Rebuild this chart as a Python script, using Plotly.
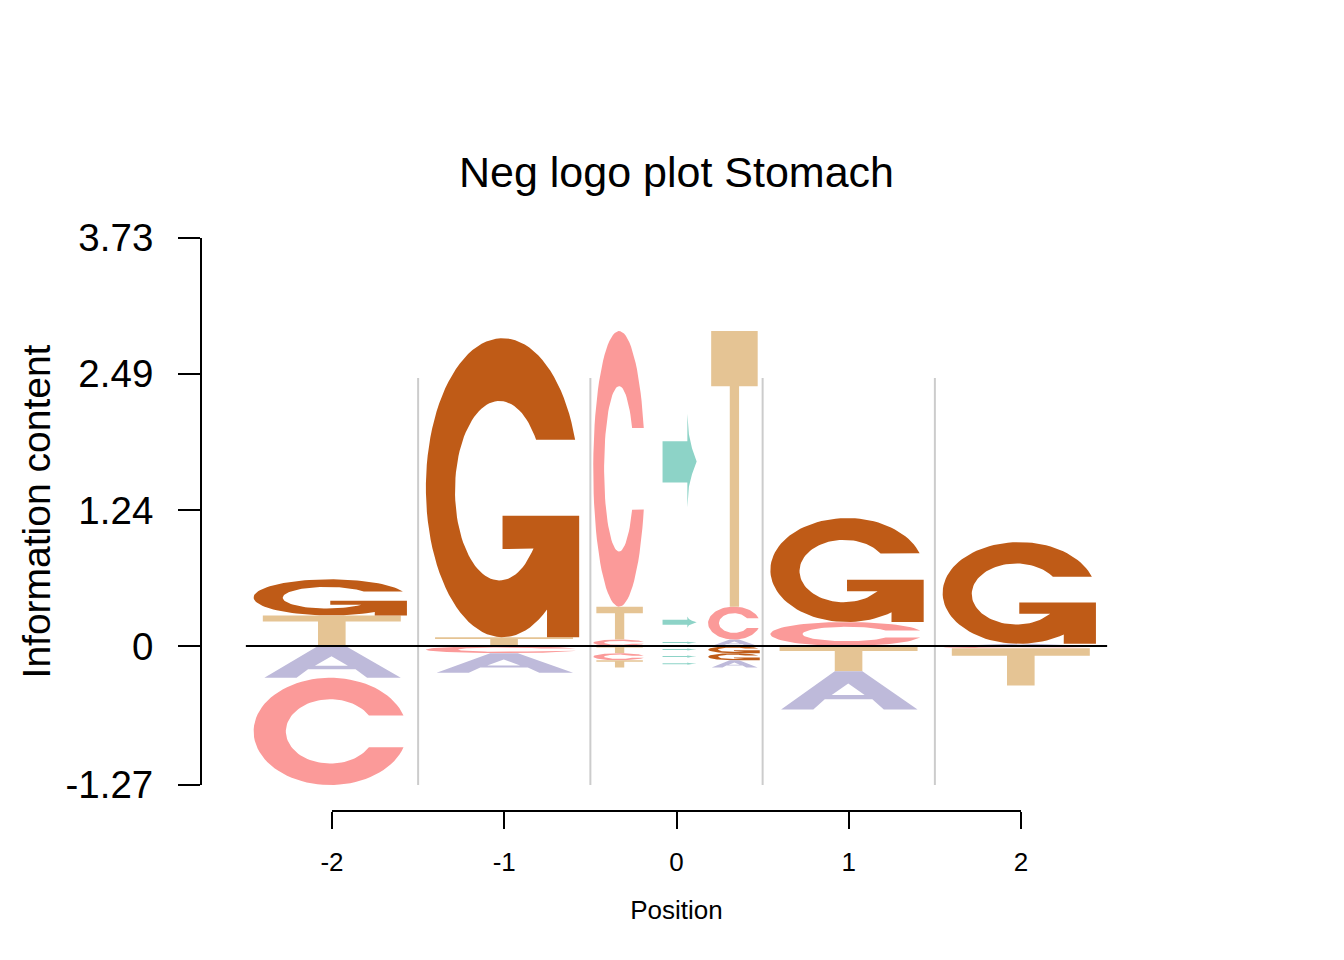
import numpy as np
import plotly.graph_objects as go

# ---------------- data ----------------
flank_positions = [-2, -1, 1, 2]
bases = ["A", "C", "G", "T"]
# letter heights above zero
up_A = [0.00, 0.00, 0.00, 0.02]
up_C = [0.00, 0.00, 0.22, 0.00]
up_G = [0.33, 2.735, 0.95, 0.93]
up_T = [0.28, 0.08, 0.00, 0.00]
# letter heights below zero
down_A = [0.29, 0.18, 0.35, 0.00]
down_C = [0.98, 0.065, 0.00, 0.02]
down_G = [0.00, 0.00, 0.00, 0.00]
down_T = [0.00, 0.00, 0.23, 0.34]

# mutated position (reference base -> alternative base)
mut_position = 0
mut_ref = ["C", "T", "C", "T", "C", "T"]
mut_alt = ["T", "C", "A", "G", "G", "A"]
mut_height = [2.52, 0.30, 0.06, -0.065, -0.065, -0.065]

position_ticks = [-2, -1, 0, 1, 2]
position_labels = ["-2", "-1", "0", "1", "2"]
ic_ticks = [-1.27, 0, 1.24, 2.49, 3.73]
ic_labels = ["-1.27", "0", "1.24", "2.49", "3.73"]
chart_title = "Neg logo plot Stomach"

# ---------------- styling ----------------
COLORS = {"A": "#BEBADA", "C": "#FB9A99", "G": "#BF5B17", "T": "#E5C494", ">": "#8DD3C7"}
FONT = "Liberation Sans, Arial, sans-serif"
LETTER_W = 0.89
LETTER_SHIFT = -0.01
SUB_W = 0.30
GRID_TOP = 2.45


def arc(cx, cy, rx, ry, a0, a1, n=80):
    t = np.radians(np.linspace(a0, a1, n))
    return list(zip(cx + rx * np.cos(t), cy + ry * np.sin(t)))


def glyph(letter):
    """Unit-box outline rings for a glyph (outer ring first, holes reversed)."""
    if letter == "C":
        ring = arc(0.5, 0.5, 0.5, 0.5, 17.2, 342.8) + arc(0.5, 0.5, 0.29, 0.30, 330.4, 29.6)
        return [ring]
    if letter == "G":
        ring = (arc(0.5, 0.5, 0.5, 0.5, 18.7, 305.5)
                + [(0.79, 0.0), (1.0, 0.0), (1.0, 0.406), (0.5, 0.406), (0.5, 0.295), (0.70, 0.295)]
                + arc(0.48, 0.49, 0.29, 0.30, -40, -325.5))
        return [ring]
    if letter == "T":
        return [[(0.06, 1), (0.96, 1), (0.96, 0.8), (0.60, 0.8), (0.60, 0),
                 (0.42, 0), (0.42, 0.8), (0.06, 0.8)]]
    if letter == "A":
        outer = [(0.07, 0), (0.42, 1), (0.60, 1), (0.96, 0), (0.74, 0),
                 (0.665, 0.27), (0.355, 0.27), (0.28, 0)]
        hole = [(0.40, 0.38), (0.615, 0.38), (0.508, 0.68)]
        return [outer, hole]
    if letter == ">":
        return [[(0.23, 0.45), (0.23, 0.60), (0.71, 0.60), (0.71, 0.70), (0.74, 0.625),
                 (0.80, 0.575), (0.89, 0.527), (0.80, 0.48), (0.74, 0.435),
                 (0.71, 0.36), (0.71, 0.45)]]
    return []


traces = []


def add_letter(letter, x0, x1, y0, y1):
    xs, ys = [], []
    for ring in glyph(letter):
        for u, v in ring:
            xs.append(x0 + u * (x1 - x0))
            ys.append(y0 + v * (y1 - y0))
        xs.append(None)
        ys.append(None)
    traces.append(go.Scatter(x=xs, y=ys, mode="lines", fill="toself",
                             fillcolor=COLORS[letter], line=dict(width=0, color=COLORS[letter]),
                             hoverinfo="skip", showlegend=False, xaxis="x", yaxis="y"))


# flanking positions: stacked letters, smallest closest to zero
up = dict(A=up_A, C=up_C, G=up_G, T=up_T)
down = dict(A=down_A, C=down_C, G=down_G, T=down_T)
for i, pos in enumerate(flank_positions):
    x0 = pos + LETTER_SHIFT - LETTER_W / 2
    x1 = pos + LETTER_SHIFT + LETTER_W / 2
    ups = sorted([(up[b][i], b) for b in bases if up[b][i] > 0])
    base = 0.0
    for h, b in ups:
        add_letter(b, x0, x1, base, base + h)
        base += h
    downs = sorted([(down[b][i], b) for b in bases if down[b][i] > 0])
    base = 0.0
    for h, b in downs:
        add_letter(b, x0, x1, base - h, base)
        base -= h

# mutated position: reference base | arrow | alternative base
pos_entries = sorted([(h, r, a) for h, r, a in zip(mut_height, mut_ref, mut_alt) if h > 0],
                     key=lambda e: e[0])
neg_entries = sorted([(-h, r, a) for h, r, a in zip(mut_height, mut_ref, mut_alt) if h < 0],
                     key=lambda e: e[0])
sub_centers = [mut_position - 1 / 3, mut_position, mut_position + 1 / 3]


def add_mut(r, a, y0, y1):
    add_letter(r, sub_centers[0] - SUB_W / 2, sub_centers[0] + SUB_W / 2, y0, y1)
    add_letter(">", sub_centers[1] - SUB_W / 2, sub_centers[1] + SUB_W / 2, y0, y1)
    add_letter(a, sub_centers[2] - SUB_W / 2, sub_centers[2] + SUB_W / 2, y0, y1)


base = 0.0
for h, r, a in pos_entries:
    add_mut(r, a, base, base + h)
    base += h
base = 0.0
for h, r, a in neg_entries:
    add_mut(r, a, base - h, base)
    base -= h

# invisible trace so the detached position axis is drawn
traces.append(go.Scatter(x=position_ticks, y=[0] * len(position_ticks), mode="markers",
                         marker=dict(opacity=0), hoverinfo="skip", showlegend=False,
                         xaxis="x2", yaxis="y"))

fig = go.Figure(traces)

shapes = []
all_pos = sorted(flank_positions + [mut_position])
for a, b in zip(all_pos[:-1], all_pos[1:]):
    xm = (a + b) / 2
    shapes.append(dict(type="line", xref="x", yref="y", x0=xm, x1=xm, y0=ic_ticks[0], y1=GRID_TOP,
                       line=dict(color="#CCCCCC", width=2), layer="below"))
shapes.append(dict(type="line", xref="x", yref="y", x0=all_pos[0] - 0.5, x1=all_pos[-1] + 0.5,
                   y0=0, y1=0, line=dict(color="black", width=2), layer="above"))

# page has an 8px body margin, so the figure is drawn 8px smaller and shifted
W, H = 1336, 952
plot_w, plot_h = 949, 573
L, T = 194, 230
R = W - L - plot_w
B = H - T - plot_h
px_per_unit = 172.25
half = (plot_w / 2) / px_per_unit
x2_lo = (plot_w / 2 - 2 * px_per_unit) / plot_w
x2_hi = (plot_w / 2 + 2 * px_per_unit) / plot_w

fig.update_layout(
    width=W, height=H,
    margin=dict(l=L, r=R, t=T, b=B, pad=0),
    paper_bgcolor="white", plot_bgcolor="rgba(0,0,0,0)",
    font=dict(family=FONT, color="black"),
    title=dict(text=chart_title, font=dict(size=43, family=FONT, color="black"),
               x=0.5, xref="paper", xanchor="center",
               y=1 - 164 / H, yref="container", yanchor="middle"),
    shapes=shapes,
    showlegend=False,
    xaxis=dict(domain=[0, 1], range=[-half, half], visible=False, anchor="y"),
    yaxis=dict(domain=[26 / plot_h, 1], range=[ic_ticks[0], ic_ticks[-1]], anchor="x",
               tickvals=ic_ticks, ticktext=ic_labels, ticks="outside", ticklen=22,
               tickwidth=2, tickcolor="black", showline=True, linewidth=2, linecolor="black",
               showgrid=False, zeroline=False, tickfont=dict(size=38.5, family=FONT),
               ticklabelstandoff=17,
               title=dict(text="Information content", font=dict(size=39, family=FONT), standoff=3)),
    xaxis2=dict(domain=[x2_lo, x2_hi], range=[position_ticks[0], position_ticks[-1]],
                anchor="free", position=0,
                tickvals=position_ticks, ticktext=position_labels, ticks="outside", ticklen=17,
                tickwidth=2, tickcolor="black", showline=True, linewidth=2, linecolor="black",
                showgrid=False, zeroline=False, tickfont=dict(size=26, family=FONT),
                ticklabelstandoff=11,
                title=dict(text="Position", font=dict(size=26, family=FONT), standoff=24)),
)

fig.write_html("out.html")
